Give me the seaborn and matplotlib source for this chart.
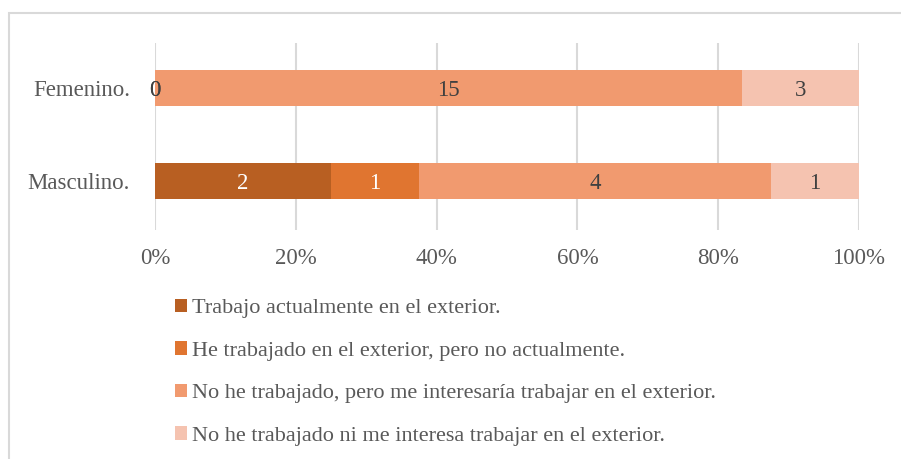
import numpy as np
import matplotlib
matplotlib.use("Agg")
import matplotlib.pyplot as plt
from matplotlib.patches import Patch, Rectangle
import seaborn as sns

# data
categories = ["Femenino.", "Masculino."]
series_names = [
    "Trabajo actualmente en el exterior.",
    "He trabajado en el exterior, pero no actualmente.",
    "No he trabajado, pero me interesaría trabajar en el exterior.",
    "No he trabajado ni me interesa trabajar en el exterior.",
]
femenino = [0, 0, 15, 3]
masculino = [2, 1, 4, 1]
colors = ["#B85F22", "#E07530", "#F19A6F", "#F5C3B0"]
label_colors = ["white", "white", "#404040", "#404040"]
pct_ticks = [0, 20, 40, 60, 80, 100]

sns.set_style("white")
plt.rcParams["font.family"] = ["Liberation Serif", "DejaVu Serif"]

counts = np.array([femenino, masculino], dtype=float)  # rows = categories
pct = counts / counts.sum(axis=1, keepdims=True) * 100
cum = np.cumsum(pct, axis=1)

fig = plt.figure(figsize=(9.01, 4.59), dpi=100)
ax = fig.add_axes([155 / 901, 1 - 230 / 459, (859 - 155) / 901, (230 - 43) / 459])

# seaborn stacked trick: draw cumulative bars from the last series to the first
for i in reversed(range(len(series_names))):
    sns.barplot(x=cum[:, i], y=categories, color=colors[i], orient="h",
                width=0.39, ax=ax, zorder=2, linewidth=0, saturation=1)

# data labels
for j in range(len(categories)):
    for i in range(len(series_names)):
        v = counts[j, i]
        center = cum[j, i] - pct[j, i] / 2
        col = "#404040" if v == 0 else label_colors[i]
        ax.text(center, j + 0.03, f"{int(v)}", ha="center", va="center",
                fontsize=16.5, color=col, zorder=3)

ax.set_xlim(0, 100)
ax.set_ylim(1.527, -0.484)
ax.set_xticks(pct_ticks)
ax.set_xticklabels([f"{t}%" for t in pct_ticks])
ax.xaxis.grid(True, color="#D9D9D9", linewidth=1.5, zorder=0)
ax.set_axisbelow(True)
for s in ax.spines.values():
    s.set_visible(False)
ax.tick_params(axis="both", length=0, labelsize=16.5, colors="#595959")
ax.tick_params(axis="x", pad=13)
ax.tick_params(axis="y", pad=18)
ax.set_xlabel("")
ax.set_ylabel("")

handles = [Patch(facecolor=c, edgecolor="none") for c in colors]
fig.legend(handles, series_names, loc="upper left",
           bbox_to_anchor=(166 / 901, 1 - 290 / 459), frameon=False,
           fontsize=16, labelcolor="#595959", handlelength=0.55,
           handleheight=0.55, handletextpad=0.22, labelspacing=1.03,
           borderaxespad=0)

# outer chart border
fig.patches.append(Rectangle((9 / 901, -0.05), 1.0, 1 - 13 / 459 + 0.05,
                             transform=fig.transFigure, fill=False,
                             edgecolor="#D9D9D9", linewidth=1.5))

fig.savefig("out.png", dpi=100)
